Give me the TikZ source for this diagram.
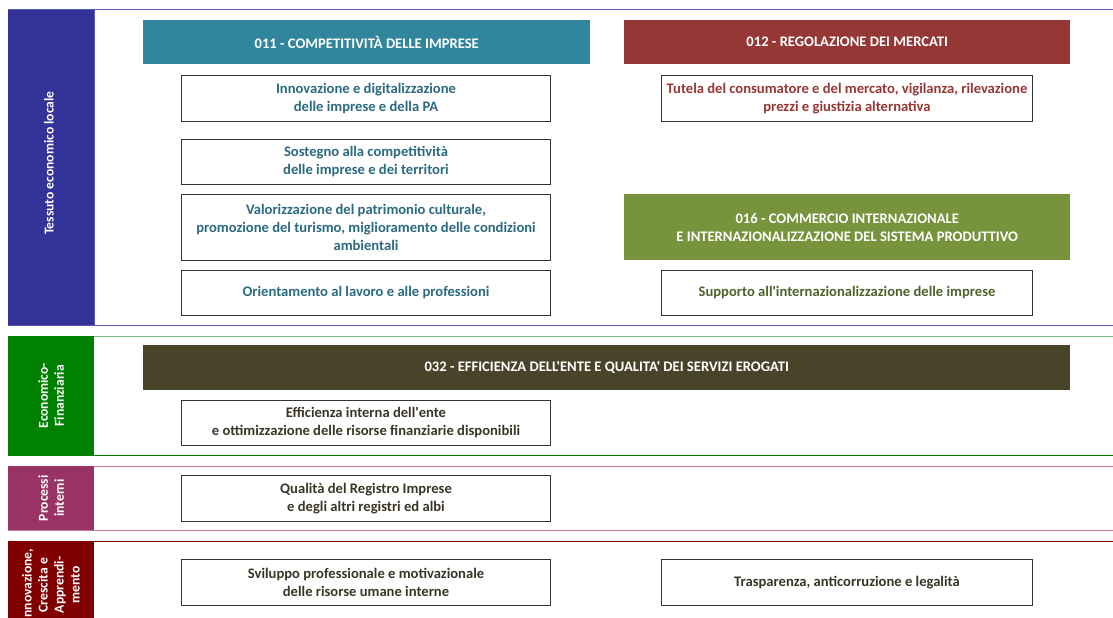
\documentclass[tikz,border=0pt]{standalone}
\usepackage{fontspec}
\setmainfont{Carlito}[Ligatures=TeXOff]
\definecolor{cBlue}{HTML}{333399}
\definecolor{cBlueL}{HTML}{5A5AB8}
\definecolor{cTeal}{HTML}{31859C}
\definecolor{cRed}{HTML}{953735}
\definecolor{cOlive}{HTML}{77933C}
\definecolor{cDark}{HTML}{494429}
\definecolor{cGreen}{HTML}{008000}
\definecolor{cGreenL}{HTML}{7DBE7D}
\definecolor{cPurple}{HTML}{993366}
\definecolor{cPurpleL}{HTML}{C27BA0}
\definecolor{cMaroon}{HTML}{800000}
\definecolor{tTeal}{HTML}{2B6A80}
\definecolor{tOlive}{HTML}{4F6228}
\definecolor{tDark}{HTML}{3A3626}
\tikzset{
  bar/.style={fill=#1, draw=none, anchor=north west, minimum width=86pt, inner sep=0pt},
  barlabel/.style={rotate=90, text=white, align=center, font=\fontsize{13.6}{16}\selectfont\bfseries},
  head/.style={fill=#1, draw=none, anchor=north west, text=white, align=center, inner sep=0pt,
     font=\fontsize{14.6}{18}\selectfont\bfseries},
  box/.style={draw=black!80, line width=1pt, fill=white, anchor=north west, align=center, inner sep=0pt,
     minimum width=369pt, text=#1, font=\fontsize{14.6}{18}\selectfont\bfseries},
  box/.default=tDark,
}
\begin{document}
\begin{tikzpicture}[x=1pt,y=-1pt]
\useasboundingbox (0,0) rectangle (1113,618);
\clip (0,0) rectangle (1113,618);
\fill[white] (0,0) rectangle (1113,618);

% ---------- Section 1 ----------
\draw[cBlueL, line width=1pt] (8,10) -- (1113,10);
\draw[cBlueL, line width=1pt] (8,325) -- (1113,325);
\draw[cBlueL, line width=0.6pt] (94,10) -- (94,325);
\node[bar=cBlue, minimum height=315pt] (b1) at (8,10) {};
\node[barlabel] (l1) at (49,163) {Tessuto economico locale};

\node[head=cTeal, minimum width=447pt, minimum height=44pt] (h11) at (143,20) {011 - COMPETITIVITÀ DELLE IMPRESE};
\node[head=cRed, minimum width=446pt, minimum height=44pt] (h12) at (624,20) {012 - REGOLAZIONE DEI MERCATI};

\node[box=tTeal, minimum height=46pt] (a1) at (181,75) {Innovazione e digitalizzazione\\delle imprese e della PA};
\node[box=tTeal, minimum height=45pt] (a2) at (181,139) {Sostegno alla competitività\\delle imprese e dei territori};
\node[box=tTeal, minimum height=66pt] (a3) at (181,194) {Valorizzazione del patrimonio culturale,\\promozione del turismo, miglioramento delle condizioni\\ambientali};
\node[box=tTeal, minimum height=45pt] (a4) at (181,270) {Orientamento al lavoro e alle professioni};

\node[box=cRed, minimum width=371pt, minimum height=46pt] (r1) at (661,75) {Tutela del consumatore e del mercato, vigilanza, rilevazione\\prezzi e giustizia alternativa};
\node[head=cOlive, minimum width=446pt, minimum height=66pt] (h16) at (624,194) {016 - COMMERCIO INTERNAZIONALE\\E INTERNAZIONALIZZAZIONE DEL SISTEMA PRODUTTIVO};
\node[box=tOlive, minimum width=371pt, minimum height=45pt] (r2) at (661,270) {Supporto all'internazionalizzazione delle imprese};

% ---------- Section 2 ----------
\draw[cGreenL, line width=1pt] (8,336) -- (1113,336);
\draw[cGreen, line width=1pt] (8,455) -- (1113,455);
\node[bar=cGreen, minimum height=119pt] (b2) at (8,336) {};
\node[barlabel] (l2) at (b2.center) {Economico-\\Finanziaria};
\node[head=cDark, minimum width=927pt, minimum height=45pt] (h32) at (143,345) {032 - EFFICIENZA DELL'ENTE E QUALITA' DEI SERVIZI EROGATI};
\node[box, minimum height=45pt] (e1) at (181,400) {Efficienza interna dell'ente\\e ottimizzazione delle risorse finanziarie disponibili};

% ---------- Section 3 ----------
\draw[cPurpleL, line width=1pt] (8,466) -- (1113,466);
\draw[cPurpleL, line width=1pt] (8,530) -- (1113,530);
\node[bar=cPurple, minimum height=64pt] (b3) at (8,466) {};
\node[barlabel] (l3) at (b3.center) {Processi\\interni};
\node[box, minimum height=46pt] (p1) at (181,475) {Qualità del Registro Imprese\\e degli altri registri ed albi};

% ---------- Section 4 ----------
\draw[cMaroon, line width=1pt] (8,541) -- (1113,541);
\node[bar=cMaroon, minimum height=90pt] (b4) at (8,541) {};
\node[barlabel] (l4) at (51,585) {Innovazione,\\Crescita e\\Apprendi-\\mento};
\node[box, minimum height=46pt] (s1) at (181,559) {Sviluppo professionale e motivazionale\\delle risorse umane interne};
\node[box, minimum width=371pt, minimum height=46pt] (s2) at (661,559) {Trasparenza, anticorruzione e legalità};
\end{tikzpicture}
\end{document}
